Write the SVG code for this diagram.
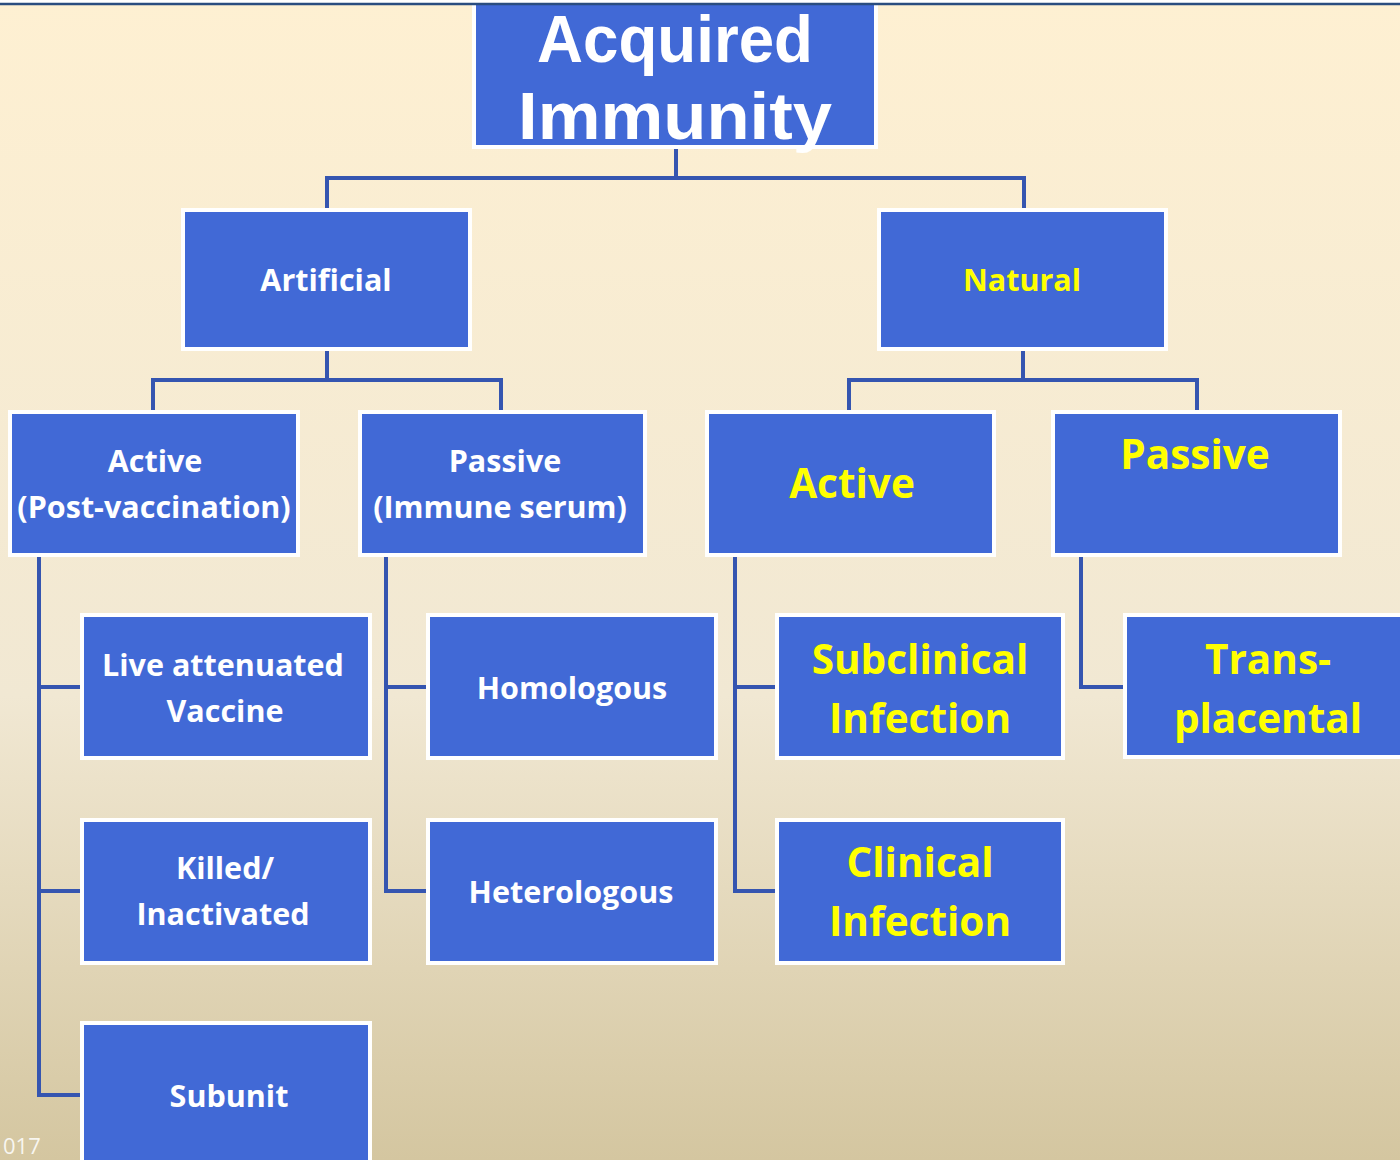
<svg xmlns="http://www.w3.org/2000/svg" width="1400" height="1160" viewBox="0 0 1400 1160">
<defs>
<linearGradient id="bg" x1="0" y1="0" x2="0" y2="1">
<stop offset="0" stop-color="#fef0d2"/>
<stop offset="0.6" stop-color="#f1e8d3"/>
<stop offset="1" stop-color="#d4c6a0"/>
</linearGradient>
<style>
.box{fill:#4169d6;stroke:#ffffff;stroke-width:4}
.wire{fill:none;stroke:#3555b0;stroke-width:4}
.t{font-family:"Open Sans","Noto Sans",sans-serif;font-weight:bold;text-anchor:middle}
.w{fill:#ffffff}
.y{fill:#ffff00}
.s{font-size:30.5px}
.l{font-size:40.5px}
.title{font-family:"Liberation Sans",Arial,sans-serif;font-weight:bold;font-size:66px;fill:#ffffff;text-anchor:middle}
</style>
</defs>
<rect x="0" y="0" width="1400" height="1160" fill="url(#bg)"/>
<g id="connectors">
<path class="wire" d="M676 149V178M327 178H1024M327 176V208M1024 176V208"/>
<path class="wire" d="M327 351V380M153 380H501M153 378V410M501 378V410"/>
<path class="wire" d="M1023 351V380M849 380H1197M849 378V410M1197 378V410"/>
<path class="wire" d="M39 557V1095H80M39 687H80M39 891H80"/>
<path class="wire" d="M386 557V891H426M386 687H426"/>
<path class="wire" d="M735 557V891H775M735 687H775"/>
<path class="wire" d="M1081 557V687H1123"/>
</g>
<g id="root">
<rect class="box" x="474" y="2" width="402" height="145"/>
<text class="title" x="675" y="62" textLength="276" lengthAdjust="spacingAndGlyphs">Acquired</text>
<text class="title" x="675" y="139" textLength="314" lengthAdjust="spacingAndGlyphs">Immunity</text>
</g>
<g id="artificial">
<rect class="box" x="183" y="210" width="287" height="139"/>
<text class="t w s" x="326" y="291">Artificial</text>
</g>
<g id="natural">
<rect class="box" x="879" y="210" width="287" height="139"/>
<text class="t y s" x="1022" y="291">Natural</text>
</g>
<g id="active-post-vaccination">
<rect class="box" x="10" y="412" width="288" height="143"/>
<text class="t w s" x="155" y="472">Active</text>
<text class="t w s" x="154" y="518">(Post-vaccination)</text>
</g>
<g id="passive-immune-serum">
<rect class="box" x="360" y="412" width="285" height="143"/>
<text class="t w s" x="505" y="472">Passive</text>
<text class="t w s" x="500" y="518">(Immune serum)</text>
</g>
<g id="active-natural">
<rect class="box" x="707" y="412" width="287" height="143"/>
<text class="t y l" x="852" y="498">Active</text>
</g>
<g id="passive-natural">
<rect class="box" x="1053" y="412" width="287" height="143"/>
<text class="t y l" x="1195" y="469">Passive</text>
</g>
<g id="live-attenuated">
<rect class="box" x="82" y="615" width="288" height="143"/>
<text class="t w s" x="223" y="676">Live attenuated</text>
<text class="t w s" x="225" y="722">Vaccine</text>
</g>
<g id="homologous">
<rect class="box" x="428" y="615" width="288" height="143"/>
<text class="t w s" x="572" y="699">Homologous</text>
</g>
<g id="subclinical">
<rect class="box" x="777" y="615" width="286" height="143"/>
<text class="t y l" x="920" y="674">Subclinical</text>
<text class="t y l" x="920" y="733">Infection</text>
</g>
<g id="transplacental">
<rect class="box" x="1125" y="615" width="290" height="142"/>
<text class="t y l" x="1268" y="674">Trans-</text>
<text class="t y l" x="1268" y="733">placental</text>
</g>
<g id="killed">
<rect class="box" x="82" y="820" width="288" height="143"/>
<text class="t w s" x="225" y="879">Killed/</text>
<text class="t w s" x="223" y="925">Inactivated</text>
</g>
<g id="heterologous">
<rect class="box" x="428" y="820" width="288" height="143"/>
<text class="t w s" x="571" y="903">Heterologous</text>
</g>
<g id="clinical">
<rect class="box" x="777" y="820" width="286" height="143"/>
<text class="t y l" x="920" y="877">Clinical</text>
<text class="t y l" x="920" y="936">Infection</text>
</g>
<g id="subunit">
<rect class="box" x="82" y="1023" width="288" height="150"/>
<text class="t w s" x="229" y="1107">Subunit</text>
</g>
<rect x="0" y="0" width="1400" height="3" fill="#ffffff"/>
<line x1="0" y1="4" x2="1400" y2="4" stroke="#2a4d80" stroke-width="2.5"/>
<text x="3" y="1154" font-family="'Open Sans',sans-serif" font-size="22" fill="#ffffff" fill-opacity="0.85">017</text>
</svg>
